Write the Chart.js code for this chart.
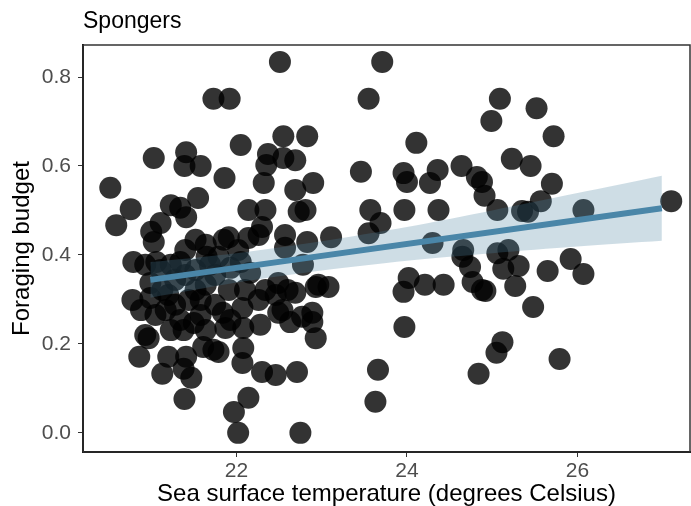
<!DOCTYPE html>
<html>
<head>
<meta charset="utf-8">
<script src="https://cdn.jsdelivr.net/npm/chart.js@4.4.1/dist/chart.umd.min.js"></script>
<style>
  html, body { margin: 0; padding: 0; background: #fff; }
  #wrap { width: 691px; height: 506px; }
</style>
</head>
<body>
<div id="wrap"><canvas id="chart" width="691" height="506"></canvas></div>
<script>
// sea surface temperature (x) and foraging budget (y) per observation
const tempX = [
  22.51, 23.71, 21.73, 21.92, 23.55, 25.09, 25.52, 24.99, 25.72, 22.55,
  22.83, 22.05, 24.11, 21.03, 21.41, 21.39, 21.58, 22.37, 22.35, 22.55,
  22.69, 21.86, 22.32, 22.90, 23.46, 23.96, 24.00, 24.36, 24.27, 24.64,
  24.82, 24.88, 24.91, 25.23, 25.45, 25.70, 20.52, 20.76, 20.59, 21.23,
  21.55, 21.41, 21.34, 21.11, 21.00, 21.03, 20.79, 21.06, 21.23, 21.65,
  21.85, 22.69, 22.14, 22.34, 22.73, 22.81, 21.91, 22.14, 22.26, 22.30,
  22.57, 22.83, 23.11, 22.57, 22.78, 21.79, 22.16, 22.49, 22.60, 22.69,
  22.93, 23.08, 22.46, 21.91, 22.07, 22.54, 22.77, 21.84, 23.57, 23.69,
  23.55, 23.97, 24.37, 24.30, 24.66, 24.65, 24.74, 24.02, 23.96, 24.21,
  24.43, 24.77, 24.88, 22.96, 22.89, 25.06, 25.35, 25.42, 25.57, 26.07,
  27.10, 25.19, 25.06, 25.31, 25.13, 25.65, 25.92, 26.07, 25.27, 24.92,
  25.48, 25.79, 25.12, 25.05, 24.84, 23.97, 23.66, 23.63, 20.93, 20.97,
  20.86, 21.20, 21.13, 21.41, 21.38, 21.47, 21.39, 21.61, 21.73, 21.38,
  21.50, 22.63, 22.89, 22.93, 22.49, 22.08, 22.28, 21.87, 22.08, 21.79,
  22.07, 22.30, 22.46, 22.71, 22.14, 21.97, 22.02, 22.75, 20.99, 20.99,
  21.13, 21.28, 21.40, 21.52, 21.64, 21.75, 21.93, 22.05, 21.44, 21.58,
  21.28, 21.17, 21.05, 21.34, 21.58, 21.75, 22.10, 21.11, 21.69, 21.52,
  21.20, 21.64, 21.23, 20.88, 20.78, 20.93, 22.02, 21.52, 21.40, 21.34,
  21.64, 22.34, 22.26, 21.93
];
const budgetY = [
  0.834, 0.834, 0.751, 0.751, 0.751, 0.751, 0.730, 0.701, 0.667, 0.667,
  0.667, 0.647, 0.652, 0.618, 0.631, 0.600, 0.600, 0.627, 0.602, 0.618,
  0.613, 0.573, 0.562, 0.562, 0.587, 0.584, 0.564, 0.591, 0.562, 0.600,
  0.575, 0.564, 0.533, 0.616, 0.600, 0.560, 0.551, 0.503, 0.467, 0.512,
  0.528, 0.485, 0.506, 0.472, 0.452, 0.429, 0.384, 0.384, 0.378, 0.396,
  0.434, 0.546, 0.501, 0.501, 0.497, 0.501, 0.440, 0.438, 0.445, 0.463,
  0.445, 0.429, 0.440, 0.416, 0.378, 0.396, 0.360, 0.337, 0.321, 0.315,
  0.328, 0.328, 0.310, 0.321, 0.281, 0.276, 0.261, 0.270, 0.501, 0.472,
  0.449, 0.501, 0.501, 0.427, 0.411, 0.396, 0.373, 0.348, 0.317, 0.333,
  0.333, 0.339, 0.321, 0.333, 0.270, 0.501, 0.499, 0.497, 0.521, 0.501,
  0.521, 0.411, 0.404, 0.375, 0.369, 0.364, 0.391, 0.357, 0.330, 0.319,
  0.283, 0.166, 0.204, 0.180, 0.133, 0.238, 0.142, 0.070, 0.220, 0.213,
  0.171, 0.171, 0.133, 0.171, 0.144, 0.124, 0.076, 0.193, 0.187, 0.231,
  0.247, 0.249, 0.249, 0.213, 0.270, 0.236, 0.243, 0.236, 0.191, 0.182,
  0.157, 0.137, 0.130, 0.137, 0.079, 0.047, 0.000, 0.000, 0.337, 0.303,
  0.321, 0.344, 0.355, 0.366, 0.333, 0.355, 0.371, 0.384, 0.299, 0.299,
  0.288, 0.276, 0.265, 0.254, 0.265, 0.288, 0.321, 0.366, 0.378, 0.321,
  0.310, 0.231, 0.231, 0.276, 0.299, 0.378, 0.411, 0.434, 0.411, 0.384,
  0.423, 0.321, 0.299, 0.254
];

// linear fit and its confidence band
const fitX = [20.99, 26.99];
const fitY = [0.344, 0.505];
const bandX = [20.99, 22, 23, 24, 25, 26, 26.99];
const bandLow = [0.304, 0.338, 0.365, 0.387, 0.404, 0.419, 0.432];
const bandHigh = [0.384, 0.404, 0.431, 0.463, 0.500, 0.539, 0.578];

const xTicks = [22, 24, 26];
const yTicks = [0, 0.2, 0.4, 0.6, 0.8];

const FONT = '"Liberation Sans", Arial, sans-serif';
const toPts = (xs, ys) => xs.map((x, i) => ({ x: x, y: ys[i] }));

const panelPlugin = {
  id: 'panel',
  afterDraw(chart) {
    const { ctx, chartArea: a } = chart;
    ctx.save();
    ctx.strokeStyle = '#333';
    ctx.lineWidth = 1.5;
    ctx.strokeRect(a.left, a.top, a.right - a.left, a.bottom - a.top);
    ctx.fillStyle = '#000';
    ctx.font = '23px ' + FONT;
    ctx.textBaseline = 'middle';
    ctx.textAlign = 'left';
    ctx.fillText('Spongers', 83, 22);
    ctx.restore();
  }
};

new Chart(document.getElementById('chart'), {
  type: 'scatter',
  data: {
    datasets: [
      {
        type: 'line',
        data: toPts(fitX, fitY),
        borderColor: '#4a86a8',
        borderWidth: 6,
        pointRadius: 0,
        fill: false,
        order: 0
      },
      {
        type: 'line',
        data: toPts(bandX, bandLow),
        borderWidth: 0,
        borderColor: 'rgba(0,0,0,0)',
        pointRadius: 0,
        tension: 0.3,
        fill: false,
        order: 1
      },
      {
        type: 'line',
        data: toPts(bandX, bandHigh),
        borderWidth: 0,
        borderColor: 'rgba(0,0,0,0)',
        backgroundColor: 'rgba(75,130,160,0.27)',
        pointRadius: 0,
        tension: 0.3,
        fill: '-1',
        order: 1
      },
      {
        data: toPts(tempX, budgetY),
        backgroundColor: 'rgba(0,0,0,0.8)',
        borderWidth: 0,
        pointRadius: 11,
        pointHoverRadius: 11,
        order: 2
      }
    ]
  },
  options: {
    responsive: false,
    animation: false,
    events: [],
    layout: { autoPadding: false, padding: { top: 45, right: 1, left: 0, bottom: 0 } },
    plugins: { legend: { display: false }, tooltip: { enabled: false } },
    scales: {
      x: {
        type: 'linear',
        min: 20.2,
        max: 27.32,
        afterBuildTicks: s => { s.ticks = xTicks.map(v => ({ value: v })); },
        afterFit: s => { s.height = 54; },
        ticks: {
          color: '#4d4d4d',
          font: { size: 21, family: FONT },
          padding: 2,
          maxRotation: 0,
          callback: v => String(v)
        },
        grid: { drawOnChartArea: false, drawTicks: true, tickLength: 5, color: '#333' },
        border: { display: true, color: '#000', width: 2 },
        title: {
          display: true,
          text: 'Sea surface temperature (degrees Celsius)',
          color: '#000',
          font: { size: 24, family: FONT, lineHeight: 1 },
          padding: { top: 0, bottom: 0 }
        }
      },
      y: {
        type: 'linear',
        min: -0.043,
        max: 0.872,
        afterBuildTicks: s => { s.ticks = yTicks.map(v => ({ value: v })); },
        afterFit: s => { s.width = 83; },
        ticks: {
          color: '#4d4d4d',
          font: { size: 21, family: FONT },
          padding: 7,
          callback: v => Number(v).toFixed(1)
        },
        grid: { drawOnChartArea: false, drawTicks: true, tickLength: 5, color: '#333' },
        border: { display: true, color: '#000', width: 2 },
        title: {
          display: true,
          text: 'Foraging budget',
          color: '#000',
          font: { size: 24, family: FONT, lineHeight: 1 },
          padding: { top: 10, bottom: 0 }
        }
      }
    }
  },
  plugins: [panelPlugin]
});
</script>
</body>
</html>
